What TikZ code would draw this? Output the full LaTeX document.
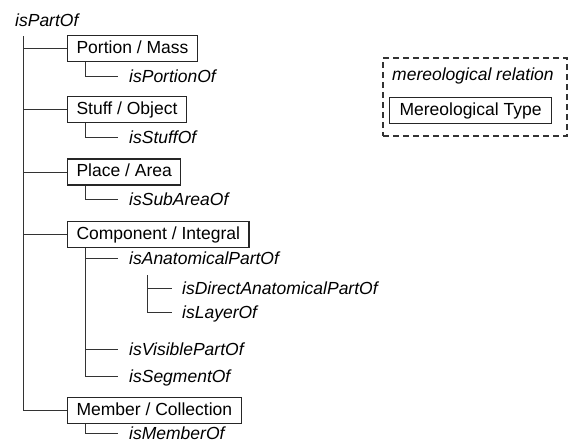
\documentclass[tikz,border=0pt]{standalone}
\usepackage{fontspec}
\setmainfont{Liberation Sans}
\begin{document}
\begin{tikzpicture}[x=1pt,y=1pt,
  every node/.style={font=\fontsize{17.5}{20}\selectfont},
  typebox/.style={draw=black!85,line width=1.1pt,anchor=west,inner xsep=9pt,inner ysep=0pt,minimum height=26pt,text height=12.5pt,text depth=3.5pt},
  rel/.style={anchor=west,inner sep=0pt,text height=12.5pt,text depth=0pt,font=\fontsize{17.5}{20}\selectfont\itshape},
  conn/.style={draw=black!80,line width=1pt},
  legendbox/.style={draw=black!80,line width=1.1pt,dash pattern=on 6pt off 4pt,minimum width=184pt,minimum height=78pt,inner sep=0pt}
]
\useasboundingbox (0,0) rectangle (569,-442);
% root
\node[rel] (root) at (15,-20) {isPartOf};
\coordinate (trunk) at (23,-36);
% types
\node[typebox] (b1) at (67,-48.5) {Portion / Mass};
\node[typebox] (b2) at (67,-109.5) {Stuff / Object};
\node[typebox] (b3) at (67,-172) {Place / Area};
\node[typebox] (b4) at (67,-234.5) {Component / Integral};
\node[typebox] (b5) at (67,-410.5) {Member / Collection};
% relations
\node[rel] (l1) at (129,-76) {isPortionOf};
\node[rel] (l2) at (129,-137) {isStuffOf};
\node[rel] (l3) at (129,-199) {isSubAreaOf};
\node[rel] (l4) at (129,-258) {isAnatomicalPartOf};
\node[rel] (l41) at (182,-288) {isDirectAnatomicalPartOf};
\node[rel] (l42) at (182,-312) {isLayerOf};
\node[rel] (l6) at (129,-349) {isVisiblePartOf};
\node[rel] (l7) at (129,-376) {isSegmentOf};
\node[rel] (l8) at (129,-433) {isMemberOf};
% trunk connectors
\draw[conn] (trunk) |- (b5.west);
\foreach \b in {b1,b2,b3,b4} \draw[conn] (trunk |- \b.west) -- (\b.west);
% sub connectors
\draw[conn] ([xshift=18pt]b1.south west) |- ([xshift=-11pt]l1.west);
\draw[conn] ([xshift=18pt]b2.south west) |- ([xshift=-11pt]l2.west);
\draw[conn] ([xshift=18pt]b3.south west) |- ([xshift=-11pt]l3.west);
\draw[conn] ([xshift=18pt]b5.south west) |- ([xshift=-11pt]l8.west);
\draw[conn] ([xshift=18pt]b4.south west) |- ([xshift=-11pt]l7.west);
\foreach \l in {l4,l6} \draw[conn] ([xshift=18pt]b4.south west |- \l.west) -- ([xshift=-11pt]\l.west);
\coordinate (sub) at ([xshift=18pt,yshift=-17pt]l4.west);
\draw[conn] (sub) |- ([xshift=-10pt]l42.west);
\draw[conn] (sub |- l41.west) -- ([xshift=-10pt]l41.west);
% legend
\node[legendbox] (leg) at (475,-97) {};
\node[rel] (legrel) at (392,-74) {mereological relation};
\node[typebox,inner xsep=10pt] (legtype) at (389,-110.5) {Mereological Type};
\end{tikzpicture}
\end{document}
